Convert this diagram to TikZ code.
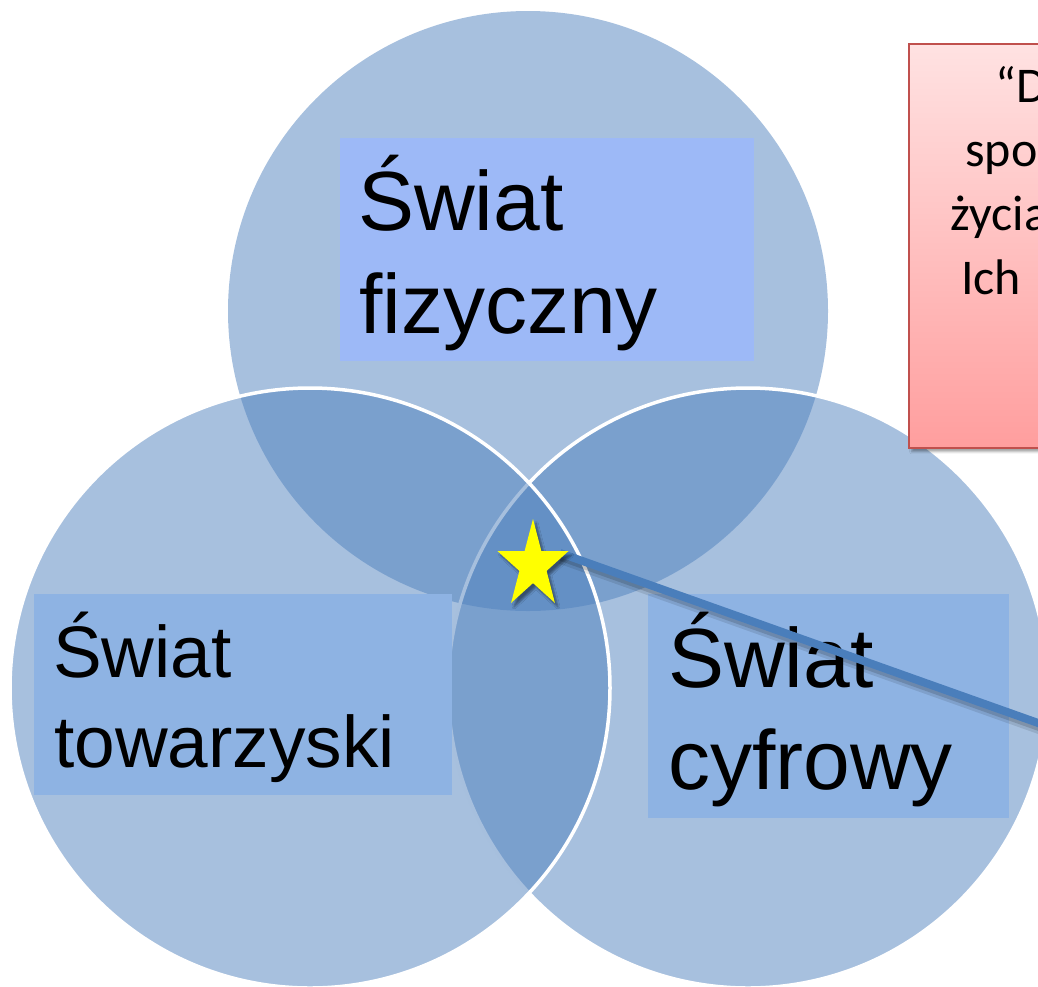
\documentclass[tikz,border=0pt]{standalone}
\usepackage{fontspec}
\setmainfont{Liberation Sans}
\newfontfamily\notefont{Carlito}
\usetikzlibrary{shadows.blur}

\definecolor{vennblue}{RGB}{79,129,189}
\definecolor{topbox}{RGB}{157,185,247}
\definecolor{sidebox}{RGB}{142,179,227}
\definecolor{linkblue}{RGB}{74,126,187}
\definecolor{noteborder}{RGB}{192,80,77}
\definecolor{notetop}{RGB}{255,226,226}
\definecolor{notebottom}{RGB}{255,158,158}
\definecolor{staryellow}{RGB}{255,255,0}

\begin{document}
\begin{tikzpicture}[x=1pt,y=-1pt,
  venn/.style={circle, minimum size=600pt, inner sep=0pt, fill=vennblue, fill opacity=0.5},
  vennedge/.style={draw=white, line width=3.5pt},
  labelbox/.style={rectangle, anchor=north west, inner sep=0pt, outer sep=0pt},
  biglabel/.style={anchor=base west, inner sep=0pt, font=\fontsize{84}{100}\selectfont},
  sidelabel/.style={anchor=base west, inner sep=0pt, font=\fontsize{73}{88}\selectfont},
  notebox/.style={rectangle, anchor=north west, inner sep=0pt, draw=noteborder, line width=1.5pt,
    top color=notetop, bottom color=notebottom,
    blur shadow={shadow xshift=3pt, shadow yshift=-4pt, shadow opacity=35}},
  notetext/.style={anchor=base west, inner sep=0pt, font=\notefont\fontsize{50}{64}\selectfont},
]
\useasboundingbox (0,0) rectangle (1038,986);

% the three overlapping worlds
\node[venn] (fiz) at (528,311) {};
\node[venn, vennedge] (cyf) at (748,688) {};
\node[venn, vennedge] (tow) at (310,688) {};

% label panels
\node[labelbox, fill=topbox, minimum width=414pt, minimum height=223pt] (fizbox) at (340,138) {};
\node[labelbox, fill=sidebox, minimum width=418pt, minimum height=201pt] (towbox) at (34,594) {};
\node[labelbox, fill=sidebox, minimum width=361pt, minimum height=224pt] (cyfbox) at (648,594) {};

\node[biglabel] (fizA) at (358,230) {Świat};
\node[biglabel] (fizB) at (359,333) {fizyczny};
\node[sidelabel] (towA) at (53,677) {Świat};
\node[sidelabel] (towB) at (54,767) {towarzyski};
\node[biglabel] (cyfA) at (668,687) {Świat};
\node[biglabel] (cyfB) at (668,789) {cyfrowy};

% quotation note, running past the right edge
\node[notebox, minimum width=320pt, minimum height=404pt] (note) at (908,43) {};
\node[notetext] (noteA) at (995,102) {“D};
\node[notetext] (noteB) at (965,166) {spo};
\node[notetext] (noteC) at (950,230) {życia};
\node[notetext] (noteD) at (961,294) {Ich};

% link from the common part to the note
\coordinate (armTip) at (560,553);
\coordinate (noteLink) at (1100,745);
\draw[black, opacity=0.10, line width=12pt] ([shift={(1,5)}]armTip) -- ([shift={(1,5)}]noteLink);
\draw[black, opacity=0.15, line width=8pt] ([shift={(1,4)}]armTip) -- ([shift={(1,4)}]noteLink);
\draw[linkblue, line width=8pt] (armTip) -- (noteLink);

% star in the shared centre
\fill[staryellow, blur shadow={shadow xshift=3pt, shadow yshift=-4pt, shadow opacity=45}]
  (533,519) -- (541.4,551.1) -- (568.5,551.1) -- (546.6,570.9) -- (554.9,602.9)
  -- (533,583.1) -- (511.1,602.9) -- (519.4,570.9) -- (497.5,551.1) -- (524.6,551.1) -- cycle;
\end{tikzpicture}
\end{document}
